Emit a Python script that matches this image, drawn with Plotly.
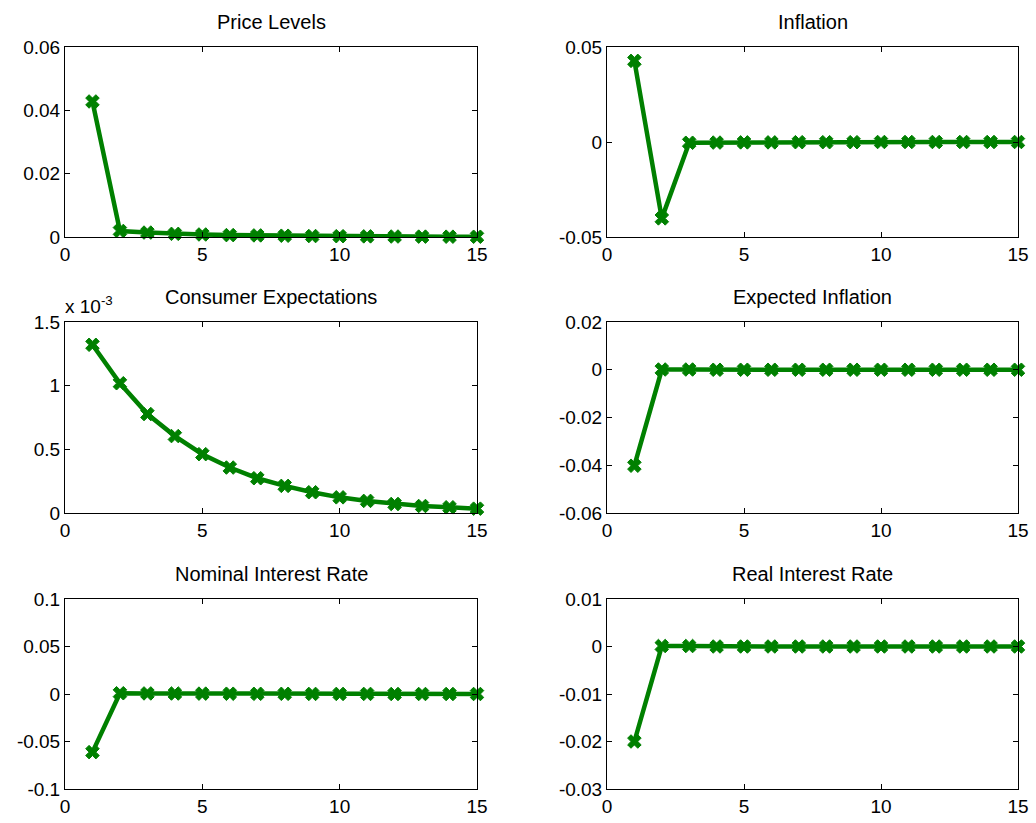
import plotly.graph_objects as go

# Impulse responses over 15 periods
periods = list(range(1, 16))

price_levels = [0.0428, 0.0019, 0.0014, 0.0010, 0.0008, 0.0006, 0.0005, 0.0004,
                0.0003, 0.00025, 0.0002, 0.00015, 0.00012, 0.0001, 0.00008]
inflation = [0.0427, -0.0402, -0.0004, -0.0003, -0.0002, -0.0002, -0.0001, -0.0001,
             -0.0001, 0.0, 0.0, 0.0, 0.0, 0.0, 0.0]
consumer_expectations = [1.321e-3, 1.019e-3, 0.777e-3, 0.604e-3, 0.462e-3, 0.357e-3,
                         0.273e-3, 0.213e-3, 0.163e-3, 0.123e-3, 0.095e-3, 0.071e-3,
                         0.055e-3, 0.045e-3, 0.034e-3]
expected_inflation = [-0.0402, 0.0001, 0.0001, 0.0, 0.0, 0.0, 0.0, 0.0,
                      0.0, 0.0, 0.0, 0.0, 0.0, 0.0, 0.0]
nominal_rate = [-0.0612, 0.0008, 0.0006, 0.0005, 0.0004, 0.0003, 0.0002, 0.0002,
                0.0001, 0.0001, 0.0001, 0.0, 0.0, 0.0, 0.0]
real_rate = [-0.0200, 0.0001, 0.0001, 0.0, 0.0, 0.0, 0.0, 0.0,
             0.0, 0.0, 0.0, 0.0, 0.0, 0.0, 0.0]

titles = ["Price Levels", "Inflation", "Consumer Expectations",
          "Expected Inflation", "Nominal Interest Rate", "Real Interest Rate"]
series = [price_levels, inflation, consumer_expectations,
          expected_inflation, nominal_rate, real_rate]

x_ticks = [0, 5, 10, 15]
y_ranges = [(0, 0.06), (-0.05, 0.05), (0, 1.5e-3), (-0.06, 0.02), (-0.1, 0.1), (-0.03, 0.01)]
y_tickvals = [
    [0, 0.02, 0.04, 0.06],
    [-0.05, 0, 0.05],
    [0, 0.5e-3, 1e-3, 1.5e-3],
    [-0.06, -0.04, -0.02, 0, 0.02],
    [-0.1, -0.05, 0, 0.05, 0.1],
    [-0.03, -0.02, -0.01, 0, 0.01],
]
y_ticktext = [
    ["0", "0.02", "0.04", "0.06"],
    ["-0.05", "0", "0.05"],
    ["0", "0.5", "1", "1.5"],
    ["-0.06", "-0.04", "-0.02", "0", "0.02"],
    ["-0.1", "-0.05", "0", "0.05", "0.1"],
    ["-0.03", "-0.02", "-0.01", "0", "0.01"],
]

W, H = 1036, 823
col_dom = [(65 / W, 477 / W), (607 / W, 1018 / W)]
row_px = [(47, 237), (322, 513), (599, 789)]
row_dom = [(1 - b / H, 1 - t / H) for t, b in row_px]

FONT = "Liberation Sans, Arial, Helvetica, sans-serif"
GREEN = "#008000"
TICK_SIZE = 19
TITLE_SIZE = 20

fig = go.Figure()
annotations = []
for i, (ttl, ys) in enumerate(zip(titles, series)):
    r, c = divmod(i, 2)
    n = i + 1
    xa = "x" if n == 1 else f"x{n}"
    ya = "y" if n == 1 else f"y{n}"
    fig.add_trace(go.Scatter(
        x=periods, y=ys, xaxis=xa, yaxis=ya, mode="lines+markers",
        line=dict(color=GREEN, width=4.5),
        marker=dict(symbol="x", size=12, color=GREEN,
                    line=dict(color=GREEN, width=1)),
        cliponaxis=False, showlegend=False,
    ))
    axis_common = dict(
        showline=True, linecolor="black", linewidth=1, mirror="ticks",
        ticks="inside", ticklen=5, tickcolor="black", showgrid=False,
        zeroline=False, automargin=False,
        tickfont=dict(family=FONT, size=TICK_SIZE, color="black"),
    )
    fig.layout[f"xaxis{'' if n == 1 else n}"] = dict(
        domain=col_dom[c], range=[0, 15], tickvals=x_ticks,
        anchor=ya, **axis_common)
    fig.layout[f"yaxis{'' if n == 1 else n}"] = dict(
        domain=row_dom[r], range=list(y_ranges[i]), tickvals=y_tickvals[i],
        ticktext=y_ticktext[i], anchor=xa, **axis_common)
    annotations.append(dict(
        text=ttl, xref="paper", yref="paper",
        x=(col_dom[c][0] + col_dom[c][1]) / 2, y=row_dom[r][1] + 12 / H,
        xanchor="center", yanchor="bottom", showarrow=False,
        font=dict(family=FONT, size=TITLE_SIZE, color="black"),
    ))

# exponent label for the scaled axis
annotations.append(dict(
    text="x 10<sup>-3</sup>", xref="paper", yref="paper",
    x=col_dom[0][0] - 2 / W, y=row_dom[1][1] + 3 / H, xanchor="left", yanchor="bottom",
    showarrow=False, font=dict(family=FONT, size=TICK_SIZE, color="black"),
))

fig.update_layout(
    width=W, height=H, margin=dict(l=0, r=0, t=0, b=0, pad=0),
    paper_bgcolor="white", plot_bgcolor="white",
    annotations=annotations,
)

fig.write_html("out.html", post_script="document.body.style.margin='0';")
